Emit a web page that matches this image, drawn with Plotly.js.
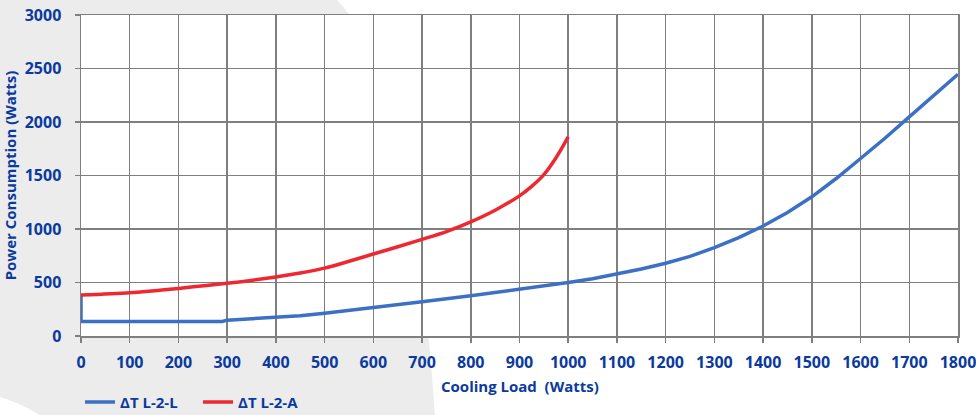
<!DOCTYPE html>
<html>
<head>
<meta charset="utf-8">
<script src="https://cdn.plot.ly/plotly-3.0.1.min.js"></script>
<style>
  html, body { margin: 0; padding: 0; background: #ffffff; }
  #wrap { position: relative; width: 976px; height: 415px; overflow: hidden; }
  #bg { position: absolute; left: 0; top: 0; }
  #chart { position: absolute; left: 0; top: 0; width: 976px; height: 415px; }
</style>
</head>
<body>
<div id="wrap">
  <svg id="bg" width="976" height="415" viewBox="0 0 976 415">
    <path d="M0,0 L337,0 Q411,74 435,415 L40,415 Q20,403 0,397 Z" fill="#ececec"/>
  </svg>
  <div id="chart"></div>
</div>
<script>
// Series data
const seriesNames = ["\u0394T L-2-L", "\u0394T L-2-A"];
const xTitle = "Cooling Load  (Watts)";
const yTitle = "Power Consumption (Watts)";

const blueLoad  = [0, 0, 100, 200, 290, 300, 400, 450, 500, 600, 700, 800, 900, 1000, 1050, 1100, 1150, 1200, 1250, 1300, 1350, 1400, 1450, 1500, 1550, 1600, 1650, 1700, 1750, 1800];
const bluePower = [383, 136, 136, 136, 136, 148, 172, 190, 212, 262, 320, 376, 436, 500, 535, 578, 626, 680, 744, 826, 920, 1028, 1155, 1301, 1472, 1659, 1848, 2048, 2250, 2446];

const redLoad  = [0, 100, 200, 300, 400, 450, 500, 600, 700, 750, 800, 850, 900, 925, 950, 975, 1000];
const redPower = [383, 405, 445, 492, 552, 588, 634, 766, 903, 976, 1067, 1176, 1310, 1398, 1508, 1666, 1861];

const xTicks = [0,100,200,300,400,500,600,700,800,900,1000,1100,1200,1300,1400,1500,1600,1700,1800];
const yTicks = [0,500,1000,1500,2000,2500,3000];

const textColor = "#0b3a9e";
const gridColor = "#7f7f7f";
const fam = "Open Sans, sans-serif";
const tickFont = { family: fam, size: 16, color: textColor, weight: 700 };
const legendFont = { family: fam, size: 15, color: textColor, weight: 700 };
const titleFont = { family: fam, size: 15, color: textColor, weight: 700 };

const traces = [
  { x: blueLoad, y: bluePower, name: seriesNames[0], type: "scatter", mode: "lines",
    line: { color: "#3b70c4", width: 3.5, shape: "linear" } },
  { x: redLoad, y: redPower, name: seriesNames[1], type: "scatter", mode: "lines",
    line: { color: "#ee2830", width: 3.5, shape: "spline", smoothing: 0.8 } }
];

const axisCommon = {
  showgrid: true, gridcolor: gridColor, gridwidth: 1.5,
  showline: true, linecolor: gridColor, linewidth: 1.5, mirror: true,
  ticks: "outside", ticklen: 5, tickwidth: 1.5, tickcolor: gridColor,
  zeroline: false, tickfont: tickFont, fixedrange: true,
  ticklabeloverflow: "allow", automargin: false
};

const layout = {
  width: 976, height: 415,
  margin: { l: 81, r: 18, t: 15, b: 79 },
  paper_bgcolor: "rgba(0,0,0,0)",
  plot_bgcolor: "#ffffff",
  showlegend: true,
  legend: {
    orientation: "h", xref: "container", yref: "container",
    x: 0.082, xanchor: "left", y: 0.031, yanchor: "middle",
    font: legendFont, bgcolor: "rgba(0,0,0,0)", itemwidth: 30, traceorder: "normal",
    entrywidth: 73, entrywidthmode: "pixels"
  },
  xaxis: Object.assign({}, axisCommon, {
    range: [0, 1800], tickmode: "array", tickvals: xTicks, ticktext: xTicks.map(String),
    ticklabelstandoff: 6
  }),
  yaxis: Object.assign({}, axisCommon, {
    range: [0, 3000], tickmode: "array", tickvals: yTicks, ticktext: yTicks.map(String),
    ticklabelstandoff: 10,
    title: { text: yTitle, font: titleFont, standoff: 4 }
  }),
  annotations: [
    { text: xTitle, xref: "paper", yref: "paper", x: 0.5, y: -0.156,
      xanchor: "center", yanchor: "middle", showarrow: false, font: titleFont }
  ]
};

Plotly.newPlot("chart", traces, layout, { displayModeBar: false, staticPlot: true });
</script>
</body>
</html>
